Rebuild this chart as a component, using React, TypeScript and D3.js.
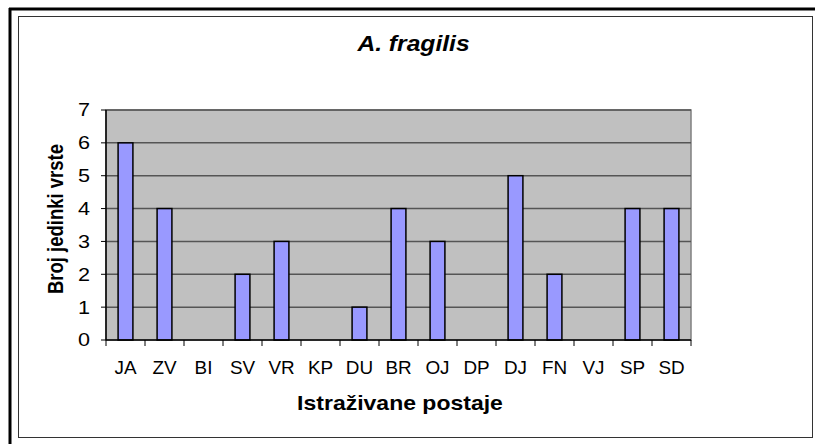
import * as d3 from 'd3';

const categories = ['JA', 'ZV', 'BI', 'SV', 'VR', 'KP', 'DU', 'BR', 'OJ', 'DP', 'DJ', 'FN', 'VJ', 'SP', 'SD'];
const counts = [6, 4, 0, 2, 3, 0, 1, 4, 3, 0, 5, 2, 0, 4, 4];
const yTicks = [0, 1, 2, 3, 4, 5, 6, 7];

const title = 'A. fragilis';
const yTitle = 'Broj jedinki vrste';
const xTitle = 'Istraživane postaje';

// text that is a bit wider than the font normally draws it (like the original export)
function Wide({ x, y, sx = 1.15, rotate = 0, children, ...rest }: any) {
  return (
    <text transform={`translate(${x},${y}) scale(${sx},1)${rotate ? ` rotate(${rotate})` : ''}`} {...rest}>
      {children}
    </text>
  );
}

export default function App() {
  const width = 815;
  const height = 444;
  // plot area (grey box)
  const plot = { left: 106, top: 110, right: 691, bottom: 340 };

  const x = d3.scaleBand().domain(categories).range([plot.left, plot.right]).paddingInner(0).paddingOuter(0);
  const y = d3.scaleLinear().domain([0, 7]).range([plot.bottom, plot.top]);

  const barW = x.bandwidth() * 0.38;
  const font = 'Arial, "Liberation Sans", sans-serif';

  return (
    <svg width={width} height={height} style={{ position: 'absolute', left: 0, top: 0 }} fontFamily={font}>
      <rect x={0} y={0} width={width} height={height} fill="#fff" />
      {/* outer frame */}
      <line x1={9} y1={9} x2={815} y2={9} stroke="#000" strokeWidth={3} />
      <line x1={10} y1={8} x2={10} y2={444} stroke="#000" strokeWidth={3} />
      <rect x={18.5} y={16.5} width={794} height={421} fill="none" stroke="#333" strokeWidth={1} />

      {/* plot area */}
      <rect x={plot.left} y={plot.top} width={plot.right - plot.left} height={plot.bottom - plot.top}
        fill="#C0C0C0" stroke="#808080" strokeWidth={1.5} />

      {/* gridlines */}
      {yTicks.filter(t => t > 0).map(t => (
        <line key={'g' + t} x1={plot.left} x2={plot.right} y1={y(t)} y2={y(t)} stroke="#555" strokeWidth={1.5} />
      ))}

      {/* bars */}
      {categories.map((c, i) => {
        const v = counts[i];
        if (v === 0) return null;
        const cx = (x(c) ?? 0) + x.bandwidth() / 2;
        return (
          <rect key={c} x={cx - barW / 2} y={y(v)} width={barW} height={y(0) - y(v)}
            fill="#9999FF" stroke="#000" strokeWidth={1.5} />
        );
      })}

      {/* y axis */}
      <line x1={plot.left} x2={plot.left} y1={plot.top} y2={plot.bottom} stroke="#000" strokeWidth={1.5} />
      {yTicks.map(t => (
        <g key={'y' + t}>
          <line x1={plot.left - 5} x2={plot.left} y1={y(t)} y2={y(t)} stroke="#000" strokeWidth={1} />
          <Wide x={90} y={y(t)} sx={1.2} dy="0.36em" textAnchor="end" fontSize={18}>{t}</Wide>
        </g>
      ))}

      {/* x axis */}
      <line x1={plot.left} x2={plot.right} y1={plot.bottom} y2={plot.bottom} stroke="#000" strokeWidth={1.5} />
      {categories.map(c => (
        <line key={'xt' + c} x1={(x(c) ?? 0)} x2={(x(c) ?? 0)} y1={plot.bottom} y2={plot.bottom + 6} stroke="#000" strokeWidth={1} />
      ))}
      <line x1={plot.right} x2={plot.right} y1={plot.bottom} y2={plot.bottom + 6} stroke="#000" strokeWidth={1} />
      {categories.map(c => (
        <Wide key={'xl' + c} x={(x(c) ?? 0) + x.bandwidth() / 2} y={374} sx={1.05} textAnchor="middle" fontSize={18}>{c}</Wide>
      ))}

      {/* titles */}
      <Wide x={413.5} y={51} sx={1.12} textAnchor="middle" fontSize={22} fontWeight="bold" fontStyle="italic">{title}</Wide>
      <Wide x={400} y={410} sx={1.15} textAnchor="middle" fontSize={20} fontWeight="bold">{xTitle}</Wide>
      <Wide x={63} y={219} sx={1.2} rotate={-90} textAnchor="middle" fontSize={18.5} fontWeight="bold">{yTitle}</Wide>
    </svg>
  );
}
